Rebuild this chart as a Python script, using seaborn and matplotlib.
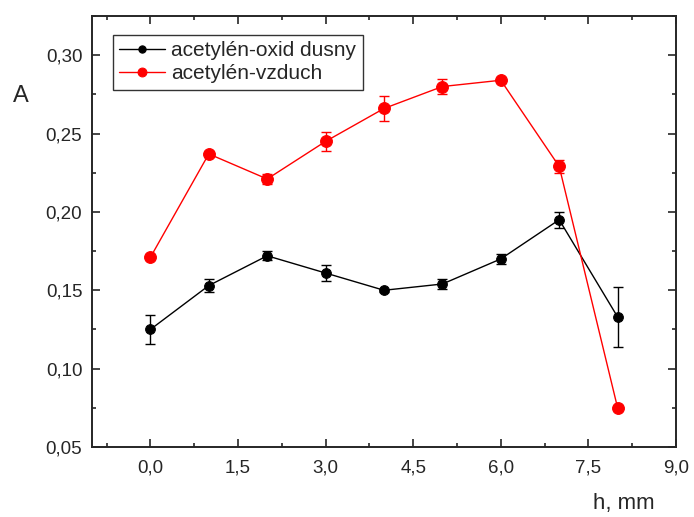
import matplotlib
matplotlib.use("Agg")
import matplotlib.pyplot as plt
import seaborn as sns
import pandas as pd
from matplotlib.ticker import MultipleLocator, FuncFormatter

h = [0, 1, 2, 3, 4, 5, 6, 7, 8]
a_oxid = [0.125, 0.153, 0.172, 0.161, 0.150, 0.154, 0.170, 0.195, 0.133]
err_oxid = [0.009, 0.004, 0.003, 0.005, 0.001, 0.003, 0.003, 0.005, 0.019]
a_vzduch = [0.171, 0.237, 0.221, 0.245, 0.266, 0.280, 0.284, 0.229, 0.075]
err_vzduch = [0.001, 0.001, 0.003, 0.006, 0.008, 0.005, 0.001, 0.004, 0.001]
labels = ["acetylén-oxid dusny", "acetylén-vzduch"]

sns.set_style("ticks")
plt.rcParams['font.family'] = ['Liberation Sans', 'DejaVu Sans']

df = pd.concat([
    pd.DataFrame({"h": h, "A": a_oxid, "err": err_oxid, "serie": labels[0]}),
    pd.DataFrame({"h": h, "A": a_vzduch, "err": err_vzduch, "serie": labels[1]}),
])

fig = plt.figure(figsize=(6.94, 5.17), dpi=100)
ax = fig.add_axes([92/694, 1-447/517, (676-92)/694, (447-16)/517])

palette = {labels[0]: "black", labels[1]: "#ff0000"}
sizes = {labels[0]: 7, labels[1]: 8.5}
for lab in labels:
    sub = df[df.serie == lab]
    ax.errorbar(sub.h, sub.A, yerr=sub.err, fmt='none', ecolor=palette[lab],
                elinewidth=1, capsize=3.5, capthick=1, zorder=2)
    sns.lineplot(data=sub, x="h", y="A", ax=ax, color=palette[lab], marker='o',
                 markersize=sizes[lab], markeredgecolor=palette[lab], linewidth=1,
                 label=lab, zorder=3)

ax.set_xlim(-1.0, 9.0)
ax.set_ylim(0.05, 0.325)
ax.xaxis.set_major_locator(MultipleLocator(1.5))
ax.xaxis.set_minor_locator(MultipleLocator(0.75))
ax.yaxis.set_major_locator(MultipleLocator(0.05))
ax.yaxis.set_minor_locator(MultipleLocator(0.025))
ax.xaxis.set_major_formatter(FuncFormatter(lambda v, p: f"{v:.1f}".replace('.', ',')))
ax.yaxis.set_major_formatter(FuncFormatter(lambda v, p: f"{v:.2f}".replace('.', ',')))
ax.tick_params(which='both', direction='in', top=True, right=True, labelsize=13.5, width=1.2)
ax.tick_params(which='major', length=6)
ax.tick_params(which='minor', length=3)
ax.tick_params(axis='x', pad=9)
ax.tick_params(axis='y', pad=7)
for s in ax.spines.values():
    s.set_linewidth(1.4)

ax.set_xlabel("")
ax.set_ylabel("")
fig.text(21/694, 1-96/517, "A", fontsize=17, ha='center', va='center')
fig.text(624/694, 1-503/517, "h, mm", fontsize=16, ha='center', va='center')

leg = ax.legend(loc='upper left', bbox_to_anchor=(21/584, 1-19/431), fontsize=15,
                frameon=True, fancybox=False, edgecolor='black', handlelength=2.2,
                borderpad=0.3, labelspacing=0.2, handletextpad=0.3, borderaxespad=0,
                markerscale=0.75)
leg.get_frame().set_linewidth(1.0)

fig.savefig("out.png", dpi=100)
